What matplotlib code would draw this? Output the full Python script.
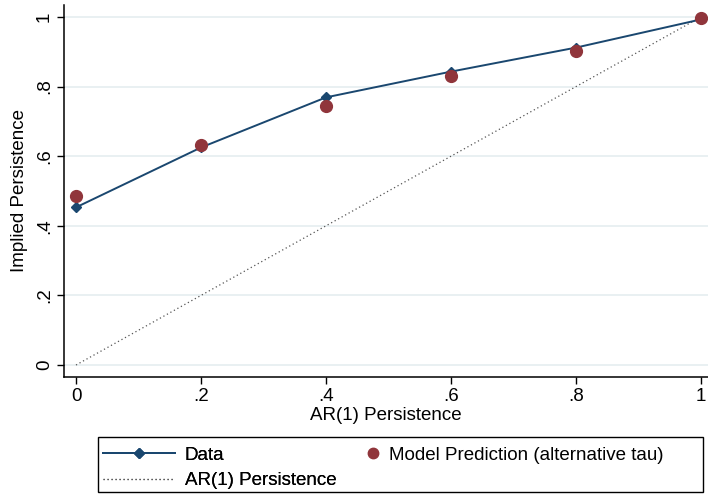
import numpy as np
import matplotlib
matplotlib.use("Agg")
import matplotlib.pyplot as plt
from matplotlib.lines import Line2D
from matplotlib.patches import Rectangle

plt.rcParams['font.family'] = ['Liberation Sans', 'DejaVu Sans']

ar1 = [0.0, 0.2, 0.4, 0.6, 0.8, 1.0]
data_pers = [0.453, 0.625, 0.769, 0.843, 0.912, 0.993]
model_pers = [0.485, 0.631, 0.743, 0.829, 0.901, 0.996]
ticks = [0.0, 0.2, 0.4, 0.6, 0.8, 1.0]
tick_labels = ['0', '.2', '.4', '.6', '.8', '1']

navy = '#1a476f'
maroon = '#90353b'
fs = 13.5

W, H = 708, 500
fig = plt.figure(figsize=(W / 100, H / 100), dpi=100)
ax = fig.add_axes([64 / W, 123 / H, 644 / W, 372 / H])

ax.plot(ar1, ar1, ls=(0, (1, 2.2)), color='#555555', lw=0.9, zorder=2)
ax.plot(ar1, data_pers, color=navy, lw=1.4, marker='D', ms=5.5, zorder=3)
ax.plot(ar1, model_pers, ls='none', marker='o', color=maroon, ms=8.5, zorder=4)

ax.set_xlim(-0.0192, 1.0112)
ax.set_ylim(-0.0344, 1.0344)
ax.set_xticks(ticks)
ax.set_xticklabels(tick_labels)
ax.set_yticks(ticks)
ax.set_yticklabels(tick_labels, rotation=90, va='center')
ax.tick_params(labelsize=fs, length=5, width=1, color='black', pad=3)

ax.grid(axis='y', color='#e3ecef', lw=1.1)
ax.set_axisbelow(True)
for s in ['top', 'right']:
    ax.spines[s].set_visible(False)
for s in ['left', 'bottom']:
    ax.spines[s].set_linewidth(1.1)

ax.set_xlabel('AR(1) Persistence', fontsize=fs, labelpad=1)
ax.set_ylabel('Implied Persistence', fontsize=fs, labelpad=6)

# legend box drawn by hand, entries in two frameless legends
fig.patches.append(Rectangle((98 / W, 8 / H), 605 / W, 55 / H, transform=fig.transFigure,
                             fill=False, edgecolor='black', lw=1.0))

h_data = Line2D([], [], color=navy, lw=1.4, marker='D', ms=5.5)
h_ar = Line2D([], [], color='#555555', lw=0.9, ls=(0, (1, 2.2)))
h_model = Line2D([], [], ls='none', marker='o', color=maroon, ms=7.5)

leg1 = fig.legend([h_data, h_ar], ['Data', 'AR(1) Persistence'], loc='center left',
                  bbox_to_anchor=(103 / W, (H - 468) / H), fontsize=fs, frameon=False,
                  handlelength=3.84, handletextpad=0.53, borderaxespad=0.0,
                  borderpad=0.0, labelspacing=0.45)
leg2 = fig.legend([h_model], ['Model Prediction (alternative tau)'], loc='center left',
                  bbox_to_anchor=(365.5 / W, (H - 455) / H), fontsize=fs, frameon=False,
                  handlelength=0.8, handletextpad=0.45, borderaxespad=0.0,
                  borderpad=0.0)
fig.add_artist(leg1)

fig.savefig('out.png', dpi=100)
